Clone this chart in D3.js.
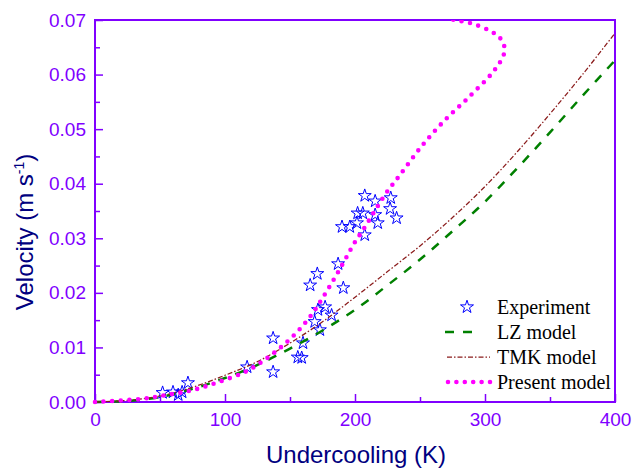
<!DOCTYPE html>
<html>
<head>
<meta charset="utf-8">
<script src="https://cdn.jsdelivr.net/npm/d3@7/dist/d3.min.js"></script>
<style>
  html, body { margin: 0; padding: 0; background: #fff; }
  svg { display: block; }
</style>
</head>
<body>
<svg id="chart" width="633" height="468"></svg>
<script>
// Experimental growth velocities (undercooling in K, velocity in m/s)
const expK = [52, 60, 64, 67, 71.5, 117, 137, 137, 156, 159, 160, 173, 169, 182, 171.5, 177,
              191, 165.5, 171, 187, 207.5, 190, 196, 201.5, 217.5, 202, 206, 215.5, 232, 227, 227.5, 215.5, 207.5];
const expV = [0.0017, 0.0018, 0.0013, 0.0018, 0.0035, 0.0064, 0.0117, 0.0055, 0.0082, 0.0081, 0.0108, 0.0132,
              0.0147, 0.0159, 0.0169, 0.0174, 0.0209, 0.0214, 0.0235, 0.0253, 0.0306, 0.0321, 0.0321, 0.0328,
              0.0328, 0.0346, 0.0346, 0.0343, 0.0337, 0.0354, 0.0374, 0.0368, 0.0378];

// Model curves sampled every 25 K
const modelK = [0, 25, 50, 75, 100, 125, 150, 175, 200, 225, 250, 275, 300, 325, 350, 375, 400];
const lzV  = [0, 0.0002, 0.0009, 0.0024, 0.0044, 0.0068, 0.0098, 0.0131, 0.0169, 0.0214, 0.0261,
              0.0313, 0.0367, 0.0429, 0.0494, 0.0561, 0.0626];
const tmkV = [0, 0.0003, 0.0011, 0.0027, 0.0049, 0.0074, 0.0108, 0.0147, 0.0192, 0.0239, 0.0286,
              0.0338, 0.0395, 0.0459, 0.0528, 0.0600, 0.0676];

// Present model: the curve turns back at high undercooling
const presentK = [0, 34.6, 55.4, 75.4, 95.4, 115.4, 129.2, 142.3, 155.4, 166.9, 175.4, 183.8, 191.5, 199.2,
                  207.7, 216.2, 224.6, 234.6, 250, 267.7, 287.7, 306.9, 314.6, 314.6, 310.8, 303.8, 290.8, 276.9, 265];
const presentV = [0, 0.00055, 0.0013, 0.0022, 0.0037, 0.0055, 0.0075, 0.0099, 0.0128, 0.0161, 0.0192, 0.0225,
                  0.0257, 0.0290, 0.0321, 0.0354, 0.0385, 0.0416, 0.0465, 0.0513, 0.0559, 0.0607, 0.0638,
                  0.0654, 0.0669, 0.0680, 0.0693, 0.0700, 0.0706];

const xTicks = [0, 100, 200, 300, 400];
const xMinor = [50, 150, 250, 350];
const yTicks = [0, 0.01, 0.02, 0.03, 0.04, 0.05, 0.06, 0.07];
const yMinor = [0.005, 0.015, 0.025, 0.035, 0.045, 0.055, 0.065];

const legendItems = ["Experiment", "LZ model", "TMK model", "Present model"];

const axisColor = "#8000ff";
const titleColor = "#000080";
const tmkColor = "#8b1c1c";

const svg = d3.select("#chart");
const plotL = 95, plotR = 615, plotT = 20, plotB = 402;

const x = d3.scaleLinear().domain([0, 400]).range([plotL, plotR]);
const y = d3.scaleLinear().domain([0, 0.07]).range([plotB, plotT]);

svg.append("defs").append("clipPath").attr("id", "plotClip")
  .append("rect").attr("x", plotL - 10).attr("y", plotT).attr("width", plotR - plotL + 20).attr("height", plotB - plotT + 20);

// Axes with inward ticks
const yAxis = svg.append("g").attr("transform", `translate(${plotL},0)`)
  .call(d3.axisLeft(y).tickValues(yTicks).tickSize(-8).tickPadding(9).tickFormat(d3.format(".2f")));
const yAxisMinor = svg.append("g").attr("transform", `translate(${plotL},0)`)
  .call(d3.axisLeft(y).tickValues(yMinor).tickSize(-5).tickFormat(""));
const xAxis = svg.append("g").attr("transform", `translate(0,${plotB})`)
  .call(d3.axisBottom(x).tickValues(xTicks).tickSize(-8).tickPadding(11).tickFormat(d3.format("d")));
const xAxisMinor = svg.append("g").attr("transform", `translate(0,${plotB})`)
  .call(d3.axisBottom(x).tickValues(xMinor).tickSize(-5).tickFormat(""));

[yAxis, yAxisMinor, xAxis, xAxisMinor].forEach(g => {
  g.select(".domain").remove();
  g.selectAll("line").attr("stroke", axisColor).attr("stroke-width", 1.5);
  g.selectAll("text").attr("fill", axisColor)
    .style("font-family", "'Liberation Sans', Arial, sans-serif").style("font-size", "19px");
});

// Frame
svg.append("rect").attr("x", plotL).attr("y", plotT).attr("width", plotR - plotL).attr("height", plotB - plotT)
  .attr("fill", "none").attr("stroke", axisColor).attr("stroke-width", 2);

const plot = svg.append("g").attr("clip-path", "url(#plotClip)");

const smooth = d3.line().x(d => x(d[0])).y(d => y(d[1])).curve(d3.curveCatmullRom.alpha(0.5));

// Experiment stars
const star = d3.symbol().type(d3.symbolStar).size(52);
plot.selectAll(".exp").data(expK.map((k, i) => [k, expV[i]])).join("path")
  .attr("class", "exp")
  .attr("transform", d => `translate(${x(d[0])},${y(d[1])})`)
  .attr("d", star)
  .attr("fill", "none").attr("stroke", "#0000ff").attr("stroke-width", 1);

// LZ model
plot.append("path").datum(modelK.map((k, i) => [k, lzV[i]]))
  .attr("d", smooth).attr("fill", "none")
  .attr("stroke", "#008000").attr("stroke-width", 2.5).attr("stroke-dasharray", "9,9");

// TMK model
plot.append("path").datum(modelK.map((k, i) => [k, tmkV[i]]))
  .attr("d", smooth).attr("fill", "none")
  .attr("stroke", tmkColor).attr("stroke-width", 1.25).attr("stroke-dasharray", "5,2,1.5,2");

// Present model
plot.append("path").datum(presentK.map((k, i) => [k, presentV[i]]))
  .attr("d", smooth).attr("fill", "none")
  .attr("stroke", "#ff00ff").attr("stroke-width", 4.6).attr("stroke-linecap", "round")
  .attr("stroke-dasharray", "0,8.6");

// Legend
const legend = svg.append("g");
const rowY = [307, 332, 357, 382];
const tx = 497;
legend.append("path").attr("transform", `translate(467,${rowY[0]})`).attr("d", star)
  .attr("fill", "none").attr("stroke", "#0000ff").attr("stroke-width", 1);
legend.append("line").attr("x1", 445).attr("x2", 475).attr("y1", rowY[1]).attr("y2", rowY[1])
  .attr("stroke", "#008000").attr("stroke-width", 2.5).attr("stroke-dasharray", "9,9");
legend.append("line").attr("x1", 447).attr("x2", 490).attr("y1", rowY[2]).attr("y2", rowY[2])
  .attr("stroke", tmkColor).attr("stroke-width", 1.25).attr("stroke-dasharray", "5,2,1.5,2");
legend.append("line").attr("x1", 448).attr("x2", 490).attr("y1", rowY[3]).attr("y2", rowY[3])
  .attr("stroke", "#ff00ff").attr("stroke-width", 4.6).attr("stroke-linecap", "round")
  .attr("stroke-dasharray", "0,8.4");
legend.selectAll(".lt").data(legendItems).join("text")
  .attr("class", "lt")
  .attr("x", tx).attr("y", (d, i) => rowY[i] + 6.5)
  .attr("fill", "#000")
  .style("font-family", "'Liberation Serif', 'Times New Roman', serif").style("font-size", "20px")
  .text(d => d);

// Axis titles
svg.append("text").attr("x", 356).attr("y", 463).attr("text-anchor", "middle")
  .attr("fill", titleColor)
  .style("font-family", "'Liberation Sans', Arial, sans-serif").style("font-size", "24px")
  .text("Undercooling (K)");

const yTitle = svg.append("text")
  .attr("transform", "translate(33,232) rotate(-90)")
  .attr("text-anchor", "middle")
  .attr("fill", titleColor)
  .style("font-family", "'Liberation Sans', Arial, sans-serif").style("font-size", "24px");
yTitle.append("tspan").text("Velocity (m s");
yTitle.append("tspan").attr("dy", -9).style("font-size", "14px").text("-1");
yTitle.append("tspan").attr("dy", 9).text(")");
</script>
</body>
</html>
